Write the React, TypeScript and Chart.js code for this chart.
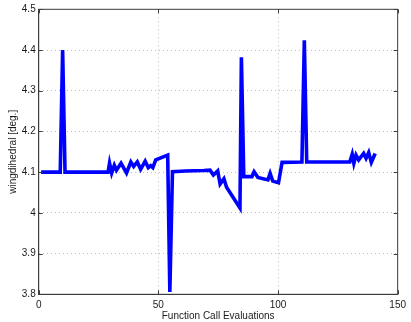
import React, { useEffect, useRef } from "react";
import { Chart, registerables } from "chart.js";

Chart.register(...registerables);

// Function call evaluation index (x) and wing dihedral value (y) at each vertex of the trace
const evalX = [
  1, 9, 10, 11, 29, 29.6, 30.5, 31.6, 32.5, 34.4, 36.7, 38.5, 39.7, 41.2, 42.6, 44.5,
  45.8, 46.8, 47.7, 48.9, 53.9, 54.8, 55.9, 61.3, 69, 71.6, 73.0, 74.8, 75.8, 77.4,
  78.5, 84.1, 84.7, 85.7, 89.1, 90.0, 91.6, 95.8, 96.7, 97.8, 100.2, 101.7, 110.0,
  111.0, 112.0, 130.0, 131.0, 131.7, 132.6, 133.7, 135.8, 136.8, 137.9, 139.0, 140.6,
];
const dihedralY = [
  4.1, 4.1, 4.4, 4.1, 4.1, 4.122, 4.098, 4.117, 4.105, 4.122, 4.098, 4.125, 4.114, 4.125, 4.107, 4.127,
  4.111, 4.116, 4.111, 4.13, 4.142, 3.806, 4.101, 4.103, 4.104, 4.105, 4.093, 4.103, 4.071, 4.084,
  4.063, 4.012, 4.382, 4.089, 4.089, 4.101, 4.087, 4.081, 4.097, 4.078, 4.074, 4.124, 4.125,
  4.424, 4.125, 4.125, 4.144, 4.122, 4.142, 4.13, 4.146, 4.134, 4.148, 4.124, 4.146,
];
const xTickValues = [0, 50, 100, 150];
const yTickValues = [3.8, 3.9, 4.0, 4.1, 4.2, 4.3, 4.4, 4.5];
const xTitle = "Function Call Evaluations";
const yTitle = "wingdihedral [deg.]";

const FONT = "'Liberation Sans', Arial, Helvetica, sans-serif";
const AXIS_COLOR = "#3c3c3c";
const TEXT_COLOR = "#1a1a1a";

const framePlugin = {
  id: "matlabFrame",
  afterDraw(chart: any) {
    const { ctx, chartArea } = chart;
    const { left, right, top, bottom } = chartArea;
    const xs = chart.scales.x;
    const ys = chart.scales.y;
    ctx.save();
    ctx.strokeStyle = AXIS_COLOR;
    ctx.lineWidth = 1;
    ctx.strokeRect(left, top, right - left, bottom - top);
    const tl = 4;
    ctx.beginPath();
    xTickValues.forEach((v) => {
      const px = Math.round(xs.getPixelForValue(v)) + 0.5;
      ctx.moveTo(px, bottom);
      ctx.lineTo(px, bottom - tl);
      ctx.moveTo(px, top);
      ctx.lineTo(px, top + tl);
    });
    yTickValues.forEach((v) => {
      const py = Math.round(ys.getPixelForValue(v)) + 0.5;
      ctx.moveTo(left, py);
      ctx.lineTo(left + tl, py);
      ctx.moveTo(right, py);
      ctx.lineTo(right - tl, py);
    });
    ctx.stroke();
    ctx.fillStyle = TEXT_COLOR;
    ctx.font = `10px ${FONT}`;
    ctx.textAlign = "center";
    ctx.textBaseline = "middle";
    ctx.fillText(xTitle, (left + right) / 2, 316);
    ctx.translate(13, (top + bottom) / 2);
    ctx.rotate(-Math.PI / 2);
    ctx.fillText(yTitle, 0, 0);
    ctx.restore();
  },
};

export default function App() {
  const ref = useRef<HTMLCanvasElement | null>(null);
  useEffect(() => {
    if (!ref.current) return;
    const points = evalX.map((x, i) => ({ x, y: dihedralY[i] }));
    const chart = new Chart(ref.current, {
      type: "line",
      data: {
        datasets: [
          {
            data: points,
            borderColor: "#0000ff",
            borderWidth: 3.6,
            pointRadius: 0,
            tension: 0,
            fill: false,
          },
        ],
      },
      options: {
        animation: false,
        responsive: false,
        events: [],
        layout: { padding: { top: 9.3, right: 10.3, left: 0, bottom: 0 } },
        plugins: { legend: { display: false }, tooltip: { enabled: false }, title: { display: false } },
        scales: {
          x: {
            type: "linear",
            min: 0,
            max: 150,
            afterBuildTicks: (s: any) => {
              s.ticks = xTickValues.map((v) => ({ value: v }));
            },
            afterFit: (s: any) => {
              s.height = 27.7;
            },
            ticks: {
              color: TEXT_COLOR,
              font: { family: FONT, size: 10 },
              padding: 5,
              maxRotation: 0,
              callback: (v: any) => String(v),
            },
            grid: { color: "#bdbdbd", drawTicks: false, lineWidth: 1 },
            border: { display: true, color: AXIS_COLOR, dash: [1, 3] },
          },
          y: {
            type: "linear",
            min: 3.8,
            max: 4.5,
            afterBuildTicks: (s: any) => {
              s.ticks = yTickValues.map((v) => ({ value: v }));
            },
            afterFit: (s: any) => {
              s.width = 38.7;
            },
            ticks: {
              color: TEXT_COLOR,
              font: { family: FONT, size: 10 },
              padding: 3,
              callback: (v: any) => String(Math.round(Number(v) * 10) / 10),
            },
            grid: { color: "#bdbdbd", drawTicks: false, lineWidth: 1 },
            border: { display: true, color: AXIS_COLOR, dash: [1, 3] },
          },
        },
      },
      plugins: [framePlugin],
    });
    return () => chart.destroy();
  }, []);
  return (
    <div style={{ position: "fixed", left: 0, top: 0, width: 411, height: 322, background: "#fff" }}>
      <canvas ref={ref} width={411} height={322} style={{ width: 411, height: 322 }} />
    </div>
  );
}
